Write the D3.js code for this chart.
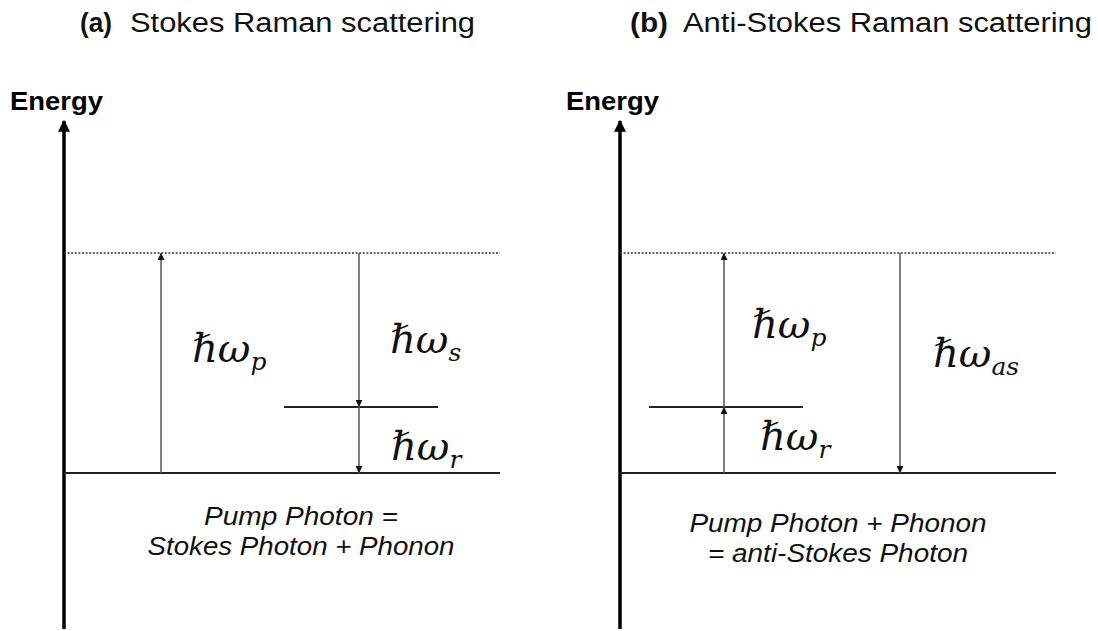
<!DOCTYPE html>
<html>
<head>
<meta charset="utf-8">
<script src="https://cdn.jsdelivr.net/npm/d3@7"></script>
<style>
  body { margin: 0; background: #fff; }
  svg { display: block; }
</style>
</head>
<body>
<div id="chart"></div>
<script>
// energy levels (arbitrary units, ground = 0)
const levels = [
  { id: "ground", energy: 0 },
  { id: "phonon", energy: 66 },
  { id: "virtual", energy: 220 }
];

// panels
const panels = [
  { key: "a", tag: "(a)", title: "Stokes Raman scattering",
    eq: ["Pump Photon =", "Stokes Photon + Phonon"] },
  { key: "b", tag: "(b)", title: "Anti-Stokes Raman scattering",
    eq: ["Pump Photon + Phonon", "= anti-Stokes Photon"] }
];

// phonon level segment per panel (position along the panel, 0..436)
const phononSpan = { a: [220, 374], b: [29, 183] };

// transitions: panel, position, from level, to level
const transitions = [
  { panel: "a", pos: 97,  from: "ground", to: "virtual" },
  { panel: "a", pos: 295, from: "virtual", to: "phonon" },
  { panel: "a", pos: 295, from: "phonon", to: "ground" },
  { panel: "b", pos: 104, from: "phonon", to: "virtual" },
  { panel: "b", pos: 104, from: "ground", to: "phonon" },
  { panel: "b", pos: 280, from: "virtual", to: "ground" }
];

// label positions (position along panel, energy)
const labels = [
  { panel: "a", pos: 128, energy: 111, sub: "p" },
  { panel: "a", pos: 326, energy: 120, sub: "s" },
  { panel: "a", pos: 327, energy: 13, sub: "r" },
  { panel: "b", pos: 132, energy: 135, sub: "p" },
  { panel: "b", pos: 313, energy: 106, sub: "as" },
  { panel: "b", pos: 140, energy: 23, sub: "r" }
];

const width = 1098, height = 631;
const svg = d3.select("#chart").append("svg")
  .attr("width", width).attr("height", height);

const y = d3.scaleLinear().domain([0, 220]).range([473, 253]);
const panelX = d3.scaleOrdinal().domain(["a", "b"]).range([64, 620]);
const along = d3.scaleLinear().domain([0, 436]).range([0, 436]);
const x = (p, v) => panelX(p) + along(v);
const levelE = id => levels.find(l => l.id === id).energy;

const defs = svg.append("defs");
defs.append("marker").attr("id", "axisHead")
  .attr("viewBox", "0 0 10 10").attr("refX", 9).attr("refY", 5)
  .attr("markerWidth", 16).attr("markerHeight", 12).attr("markerUnits", "userSpaceOnUse")
  .attr("orient", "auto")
  .append("path").attr("d", "M0,0 L10,5 L0,10 Z").attr("fill", "#000");
defs.append("marker").attr("id", "smallHead")
  .attr("viewBox", "0 0 10 10").attr("refX", 10).attr("refY", 5)
  .attr("markerWidth", 9).attr("markerHeight", 7).attr("markerUnits", "userSpaceOnUse")
  .attr("orient", "auto")
  .append("path").attr("d", "M0,0 L10,5 L0,10 Z").attr("fill", "#111");

const sans = "'Liberation Sans', Arial, sans-serif";

panels.forEach(p => {
  const g = svg.append("g");
  const x0 = panelX(p.key);

  // title
  g.append("text").attr("x", x0 + (p.key === "a" ? 16 : 10)).attr("y", 32)
    .style("font-family", sans).style("font-size", "27px")
    .style("font-weight", "bold").attr("fill", "#111")
    .attr("textLength", p.key === "a" ? 32 : 38).attr("lengthAdjust", "spacingAndGlyphs")
    .text(p.tag);
  g.append("text").attr("x", x0 + (p.key === "a" ? 66 : 63)).attr("y", 32)
    .style("font-family", sans).style("font-size", "27px").attr("fill", "#111")
    .attr("textLength", p.key === "a" ? 345 : 409).attr("lengthAdjust", "spacingAndGlyphs")
    .text(p.title);

  // energy axis
  g.append("text").attr("x", x0 - 54).attr("y", 110)
    .style("font-family", sans).style("font-size", "26px")
    .style("font-weight", "bold").attr("fill", "#000")
    .attr("textLength", 93).attr("lengthAdjust", "spacingAndGlyphs")
    .text("Energy");
  g.append("line")
    .attr("x1", x0).attr("x2", x0)
    .attr("y1", 629).attr("y2", 121)
    .attr("stroke", "#000").attr("stroke-width", 3.5)
    .attr("marker-end", "url(#axisHead)");

  // levels
  levels.forEach(l => {
    const span = l.id === "phonon" ? phononSpan[p.key] : [0, 436];
    g.append("line")
      .attr("x1", x(p.key, span[0])).attr("x2", x(p.key, span[1]))
      .attr("y1", y(l.energy)).attr("y2", y(l.energy))
      .attr("stroke", l.id === "virtual" ? "#333" : "#222")
      .attr("stroke-width", l.id === "virtual" ? 1.6 : 2)
      .attr("stroke-dasharray", l.id === "virtual" ? "2,1.6" : null);
  });

  // transitions
  transitions.filter(d => d.panel === p.key).forEach(d => {
    g.append("line")
      .attr("x1", x(p.key, d.pos)).attr("x2", x(p.key, d.pos))
      .attr("y1", y(levelE(d.from))).attr("y2", y(levelE(d.to)))
      .attr("stroke", "#555").attr("stroke-width", 1.5)
      .attr("marker-end", "url(#smallHead)");
  });

  // math labels
  labels.filter(d => d.panel === p.key).forEach(d => {
    const lt = g.append("text").attr("x", x(p.key, d.pos)).attr("y", y(d.energy))
      .style("font-family", "'DejaVu Serif', 'Liberation Serif', serif")
      .style("font-style", "italic").style("font-size", "40px").attr("fill", "#111");
    lt.append("tspan").text("\u210F\u03C9");
    lt.append("tspan").attr("dy", 8).style("font-size", "25px").text(d.sub);
  });

  // equation text
  const cx = p.key === "a" ? x0 + 237 : x0 + 218;
  const eqLen = p.key === "a" ? [194, 307] : [297, 260];
  p.eq.forEach((line, i) => {
    g.append("text").attr("x", cx).attr("y", (p.key === "a" ? 525 : 532) + i * 30)
      .attr("text-anchor", "middle")
      .style("font-family", sans).style("font-style", "italic")
      .style("font-size", "25px").attr("fill", "#111")
      .attr("textLength", eqLen[i]).attr("lengthAdjust", "spacingAndGlyphs")
      .text(line);
  });
});
</script>
</body>
</html>
